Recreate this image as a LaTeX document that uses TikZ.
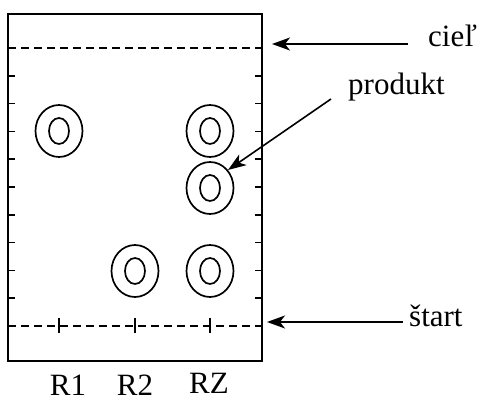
\documentclass[tikz,border=0pt]{standalone}
\usepackage{fontspec}
\setmainfont{Liberation Serif}
\usetikzlibrary{arrows.meta,shapes.geometric}
\begin{document}
\begin{tikzpicture}[x=1pt,y=-1pt,
  plate/.style={line width=2pt},
  front/.style={line width=1.6pt, dash pattern=on 8pt off 5pt},
  tick/.style={line width=1.6pt},
  spot/.style={line width=1.7pt},
  lbl/.style={font=\fontsize{31}{34}\selectfont, inner sep=0pt},
  pointer/.style={line width=1.6pt, -{Stealth[length=18pt,width=13pt,inset=5pt]}}]
\useasboundingbox (0,0) rectangle (480,403);
% TLC plate
\draw[plate] (8,14) rectangle (262,361);
% solvent front and start line
\draw[front] (8,48) -- (262,48);
\draw[front] (8,326) -- (262,326);
% scale ticks on both edges
\foreach \k in {1,...,9}{
  \draw[tick] (8,{48+27.8*\k}) -- (15,{48+27.8*\k});
  \draw[tick] (255,{48+27.8*\k}) -- (262,{48+27.8*\k});
}
% application points on the start line
\foreach \x in {59,135,210}
  \draw[tick] (\x,318) -- (\x,333);
% spots
\foreach \name/\x/\y in {sa/59/131, sb/135/271, sc/210/131, sd/210/188, se/210/271}{
  \node[spot, draw, ellipse, minimum width=47pt, minimum height=52pt, inner sep=0pt] (\name) at (\x,\y) {};
  \draw[spot] (\x,\y) ellipse [x radius=10pt, y radius=13pt];
}
% lane labels
\node[lbl, anchor=base] (r1) at (68,396) {R1};
\node[lbl, anchor=base] (r2) at (135,396) {R2};
\node[lbl, anchor=base] (rz) at (209,394) {RZ};
% annotations
\node[lbl, anchor=base west] (ciel) at (428,47) {cieľ};
\node[lbl, anchor=base west] (prod) at (348,95) {produkt};
\node[lbl, anchor=base west] (start) at (409,327) {štart};
\coordinate (cielend) at (272,44);
\coordinate (startend) at (267,322);
\coordinate (prodbeg) at (331,99);
\draw[pointer] (408,44) -- (cielend);
\draw[pointer] (403,322) -- (startend);
\draw[pointer] (prodbeg) -- (sd.45);
\end{tikzpicture}
\end{document}
